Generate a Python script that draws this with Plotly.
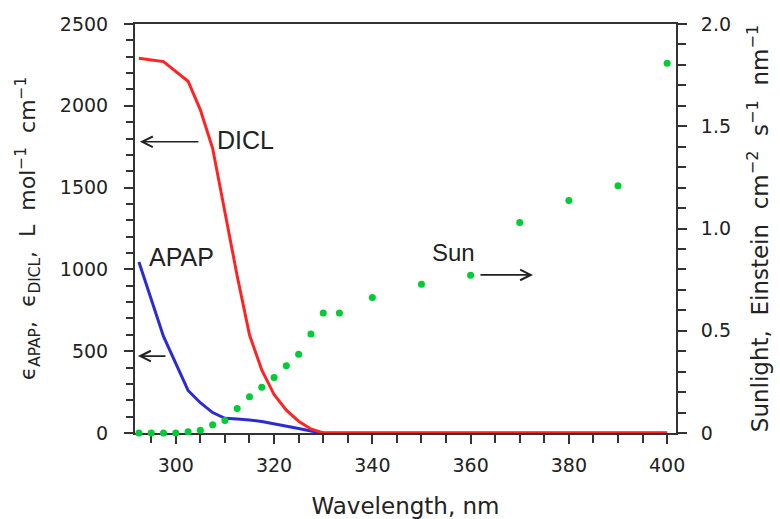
import plotly.graph_objects as go

# ---- data ----
wl_dicl = [292.5, 297.5, 302.5, 305, 307.5, 310, 312.5, 315, 317.5, 320, 322.5, 325, 327.5, 330,
           340, 350, 360, 370, 380, 390, 400]
eps_dicl = [2290, 2270, 2150, 1975, 1740, 1340, 960, 600, 385, 235, 140, 72, 25, 0,
            0, 0, 0, 0, 0, 0, 0]

wl_apap = [292.5, 297.5, 302.5, 305, 307.5, 310, 312.5, 315, 317.5, 320, 322.5, 325, 327.5, 330,
           340, 350, 360, 370, 380, 390, 400]
eps_apap = [1045, 590, 260, 185, 125, 90, 85, 80, 70, 57, 43, 28, 12, 0,
            0, 0, 0, 0, 0, 0, 0]

wl_sun = [292.5, 295, 297.5, 300, 302.5, 305, 307.5, 310, 312.5, 315, 317.5, 320, 322.5, 325,
          327.5, 330, 333.3, 340, 350, 360, 370, 380, 390, 400]
sun = [0, 0, 0, 0, 0.006, 0.013, 0.04, 0.061, 0.12, 0.177, 0.224, 0.272, 0.329, 0.385,
       0.484, 0.587, 0.587, 0.662, 0.727, 0.772, 1.029, 1.137, 1.209, 1.808]

x_ticks = [300, 320, 340, 360, 380, 400]
y_ticks = [0, 500, 1000, 1500, 2000, 2500]
y2_ticks = [0, 0.5, 1.0, 1.5, 2.0]
y2_ticktext = ["0", "0.5", "1.0", "1.5", "2.0"]

AX = "#333333"
TXT = "#222222"
TICKFONT = dict(family="DejaVu Sans", size=19, color=TXT)

fig = go.Figure()
fig.add_trace(go.Scatter(x=wl_sun, y=sun, mode="markers", yaxis="y2",
                         marker=dict(color="#00cc33", size=7), cliponaxis=False,
                         showlegend=False))
fig.add_trace(go.Scatter(x=wl_apap, y=eps_apap, mode="lines",
                         line=dict(color="#2b2bd6", width=3), cliponaxis=False,
                         showlegend=False))
fig.add_trace(go.Scatter(x=wl_dicl, y=eps_dicl, mode="lines",
                         line=dict(color="#ff2424", width=3), cliponaxis=False,
                         showlegend=False))

nb = "\u00a0"
left_title = ("ϵ<sub>APAP</sub>," + nb * 2 + "ϵ<sub>DICL</sub>," + nb * 2 + "L" + nb * 2 +
              "mol<sup>−1</sup>" + nb * 2 + "cm<sup>−1</sup>")
right_title = ("Sunlight," + nb * 2 + "Einstein" + nb * 2 + "cm<sup>−2</sup>" + nb * 2 +
               "s<sup>−1</sup>" + nb * 2 + "nm<sup>−1</sup>")

fig.update_layout(
    width=780, height=519,
    margin=dict(l=135, r=104, t=24, b=86),
    paper_bgcolor="white", plot_bgcolor="white",
    xaxis=dict(range=[291.7, 401.8], tickvals=x_ticks, ticks="outside", ticklen=9,
               tickwidth=1.5, tickcolor=AX, showline=True, linecolor=AX, linewidth=2,
               mirror=True, showgrid=False, zeroline=False, tickfont=TICKFONT,
               ticklabelstandoff=5, layer="below traces", automargin=False,
               minor=dict(dtick=5, tick0=300, ticks="outside", ticklen=8, tickwidth=1.5,
                          tickcolor=AX, showgrid=False),
               title=dict(text="Wavelength, nm",
                          font=dict(family="DejaVu Sans", size=23, color=TXT), standoff=26)),
    yaxis=dict(range=[0, 2500], tickvals=y_ticks, ticks="outside", ticklen=9,
               tickwidth=1.5, tickcolor=AX, showline=True, linecolor=AX, linewidth=2,
               showgrid=False, zeroline=False, tickfont=TICKFONT, ticklabelstandoff=12,
               layer="below traces", automargin=False,
               minor=dict(dtick=100, ticks="outside", ticklen=7, tickwidth=1.5,
                          tickcolor=AX, showgrid=False),
               title=dict(text=left_title,
                          font=dict(family="DejaVu Sans", size=22, color=TXT), standoff=18)),
    yaxis2=dict(range=[0, 2.0], overlaying="y", side="right", tickvals=y2_ticks,
                ticktext=y2_ticktext, ticks="outside", ticklen=9, tickwidth=1.5,
                tickcolor=AX, showline=True, linecolor=AX, linewidth=2, showgrid=False,
                zeroline=False, tickfont=TICKFONT, ticklabelstandoff=10, automargin=False,
                minor=dict(dtick=0.1, ticks="outside", ticklen=8, tickwidth=1.5,
                           tickcolor=AX, showgrid=False),
                title=dict(text=right_title,
                           font=dict(family="DejaVu Sans", size=23, color=TXT), standoff=22)),
)

ANNFONT = dict(family="Liberation Sans, Arial", size=25, color=TXT)
fig.add_annotation(x=308.0, y=1790, xref="x", yref="y", text="DICL", showarrow=False,
                   xanchor="left", yanchor="middle", font=ANNFONT)
fig.add_annotation(x=292.7, y=1780, ax=304.9, ay=1780, xref="x", yref="y", axref="x", ayref="y",
                   text="", showarrow=True, arrowhead=5, arrowsize=1.3, arrowwidth=1.6,
                   arrowcolor=TXT)
fig.add_annotation(x=294.2, y=1073, xref="x", yref="y", text="APAP", showarrow=False,
                   xanchor="left", yanchor="middle", font=ANNFONT)
fig.add_annotation(x=292.3, y=470, ax=298.2, ay=470, xref="x", yref="y", axref="x", ayref="y",
                   text="", showarrow=True, arrowhead=5, arrowsize=1.3, arrowwidth=1.6,
                   arrowcolor=TXT)
fig.add_annotation(x=351.7, y=0.885, xref="x", yref="y2", text="Sun", showarrow=False,
                   xanchor="left", yanchor="middle", font=dict(family="Liberation Sans, Arial", size=24, color=TXT))
fig.add_annotation(x=372.7, y=0.773, ax=361.7, ay=0.773, xref="x", yref="y2", axref="x", ayref="y2",
                   text="", showarrow=True, arrowhead=5, arrowsize=1.3, arrowwidth=1.6,
                   arrowcolor=TXT)

fig.write_html("out.html")
